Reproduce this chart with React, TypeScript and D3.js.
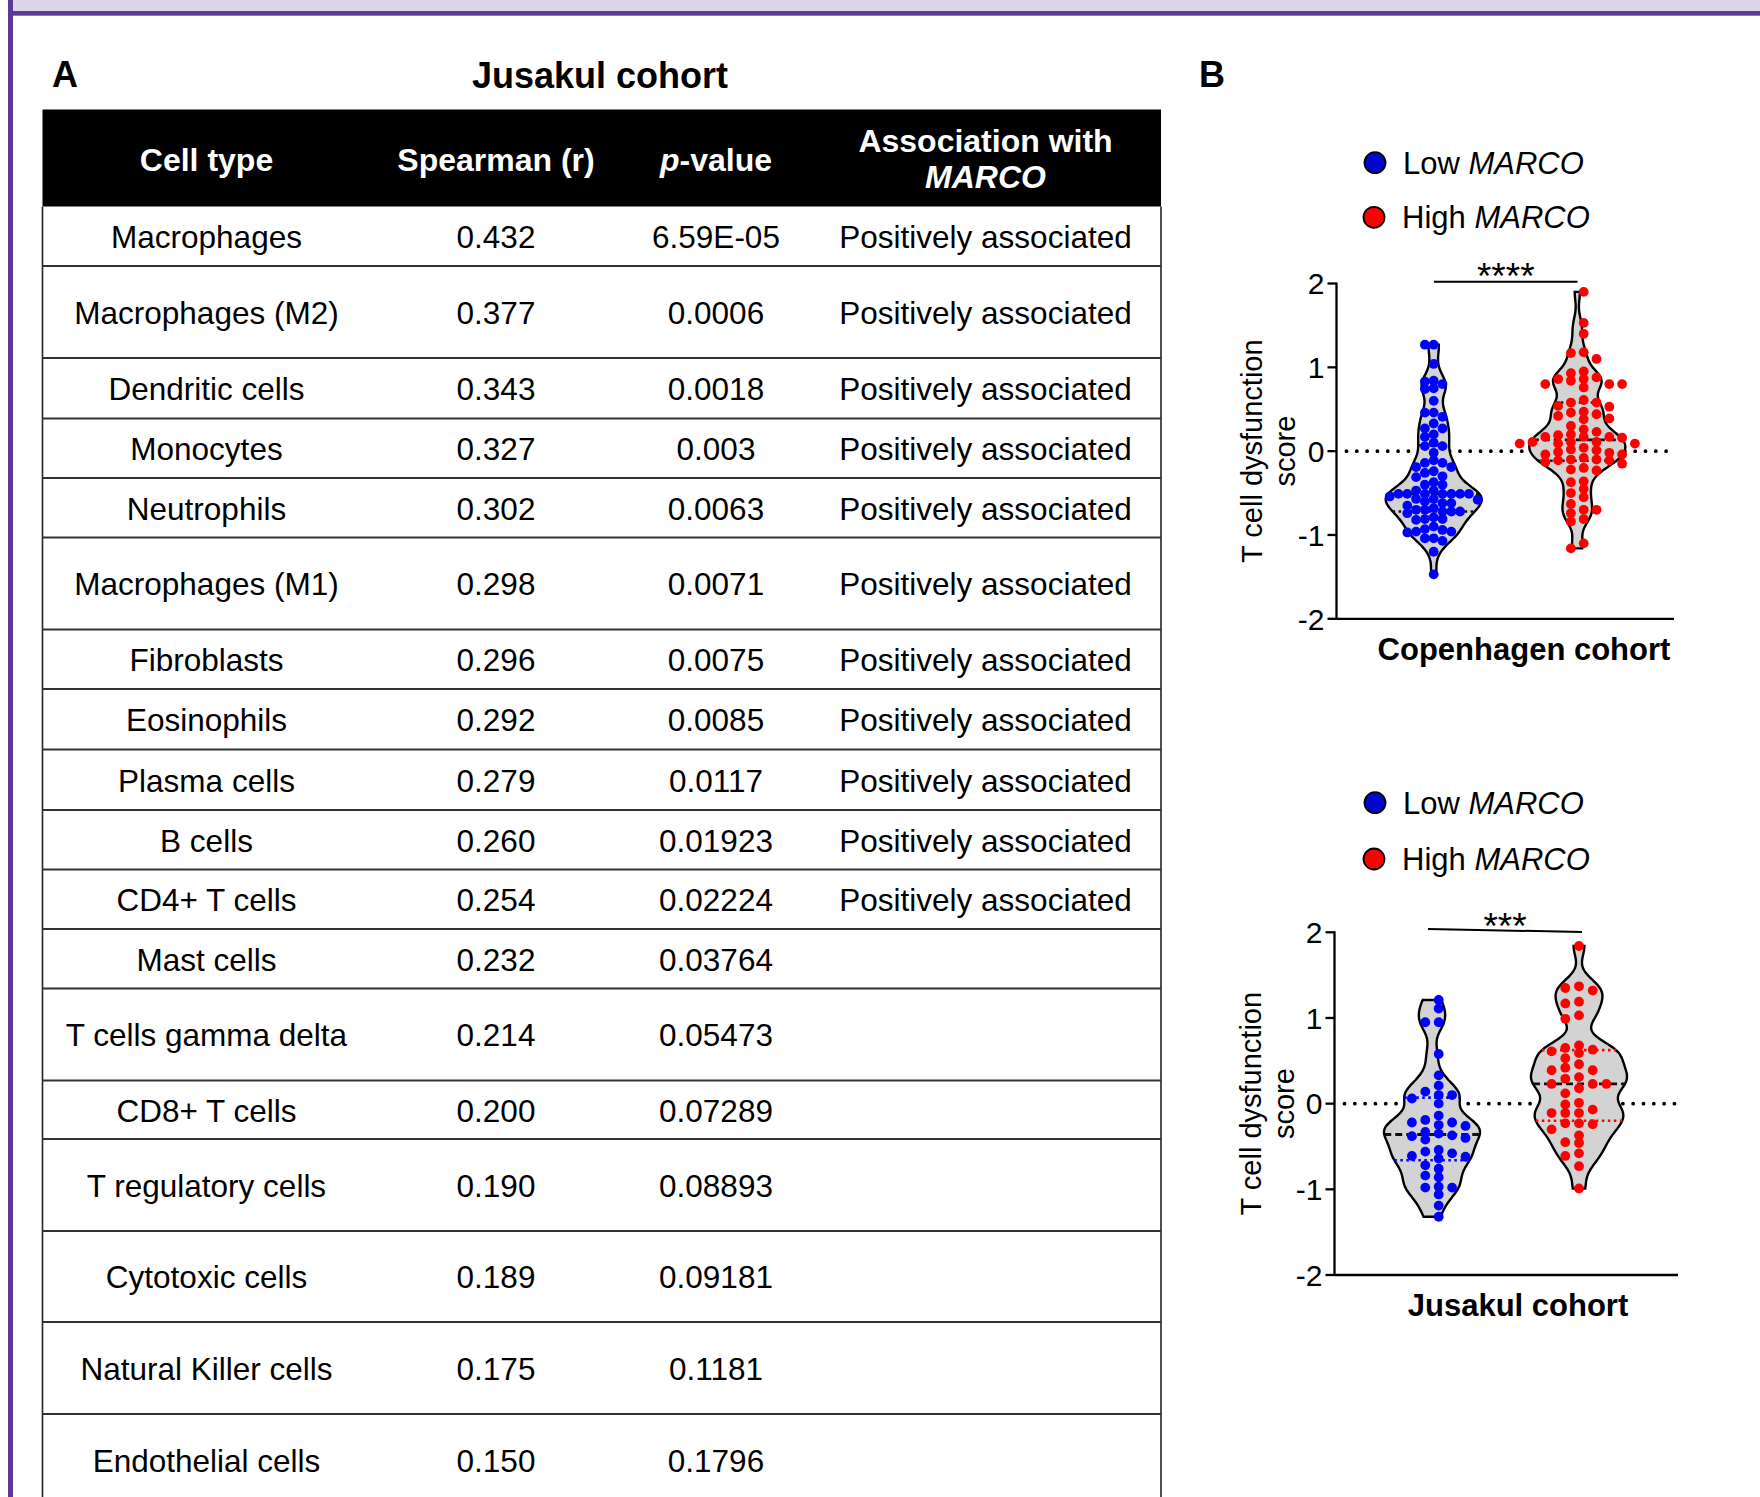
import React from 'react';
import * as d3 from 'd3';

// ---------------- DATA ----------------
const CELL_TYPES = [
  'Macrophages', 'Macrophages (M2)', 'Dendritic cells', 'Monocytes', 'Neutrophils',
  'Macrophages (M1)', 'Fibroblasts', 'Eosinophils', 'Plasma cells', 'B cells',
  'CD4+ T cells', 'Mast cells', 'T cells gamma delta', 'CD8+ T cells',
  'T regulatory cells', 'Cytotoxic cells', 'Natural Killer cells', 'Endothelial cells',
];
const SPEARMAN_R = [
  '0.432', '0.377', '0.343', '0.327', '0.302', '0.298', '0.296', '0.292', '0.279',
  '0.260', '0.254', '0.232', '0.214', '0.200', '0.190', '0.189', '0.175', '0.150',
];
const P_VALUES = [
  '6.59E-05', '0.0006', '0.0018', '0.003', '0.0063', '0.0071', '0.0075', '0.0085',
  '0.0117', '0.01923', '0.02224', '0.03764', '0.05473', '0.07289', '0.08893',
  '0.09181', '0.1181', '0.1796',
];
const ASSOCIATION = [
  'Positively associated', 'Positively associated', 'Positively associated',
  'Positively associated', 'Positively associated', 'Positively associated',
  'Positively associated', 'Positively associated', 'Positively associated',
  'Positively associated', 'Positively associated', '', '', '', '', '', '', '',
];

const COP_LOW = [
  1.27, 1.27, 1.04, 0.84, 0.83, 0.80, 0.75, 0.74, 0.60, 0.46, 0.46, 0.41, 0.33, 0.27,
  0.27, 0.20, 0.17, 0.10, 0.06, 0.06, -0.02, -0.11, -0.14, -0.14, -0.19, -0.19, -0.24,
  -0.26, -0.30, -0.31, -0.37, -0.40, -0.40, -0.47, -0.47, -0.51, -0.51, -0.51, -0.51,
  -0.51, -0.51, -0.51, -0.54, -0.57, -0.57, -0.58, -0.60, -0.62, -0.62, -0.65, -0.68,
  -0.70, -0.70, -0.72, -0.72, -0.72, -0.74, -0.79, -0.81, -0.81, -0.82, -0.90, -0.93,
  -0.94, -0.96, -0.96, -0.97, -1.04, -1.04, -1.07, -1.20, -1.47,
];
const COP_HIGH = [
  1.90, 1.53, 1.40, 1.18, 1.17, 1.10, 0.95, 0.93, 0.88, 0.86, 0.86, 0.84, 0.80, 0.80,
  0.80, 0.76, 0.61, 0.58, 0.58, 0.54, 0.53, 0.47, 0.46, 0.44, 0.42, 0.39, 0.38, 0.30,
  0.26, 0.23, 0.20, 0.19, 0.17, 0.17, 0.17, 0.16, 0.11, 0.11, 0.11, 0.09, 0.09, 0.09,
  0.04, 0.02, 0.01, -0.01, -0.02, -0.04, -0.04, -0.08, -0.10, -0.10, -0.11, -0.11,
  -0.13, -0.15, -0.20, -0.22, -0.23, -0.36, -0.37, -0.45, -0.50, -0.55, -0.63, -0.70,
  -0.70, -0.74, -0.81, -0.84, -1.10, -1.16,
];
const JUS_LOW = [
  1.21, 1.11, 0.95, 0.95, 0.58, 0.33, 0.21, 0.14, 0.10, 0.10, 0.06, 0.00, -0.14, -0.19,
  -0.22, -0.22, -0.25, -0.26, -0.33, -0.35, -0.37, -0.38, -0.40, -0.42, -0.54, -0.56,
  -0.58, -0.61, -0.62, -0.64, -0.72, -0.76, -0.84, -0.86, -0.97, -0.98, -0.98, -1.06,
  -1.19, -1.32,
];
const JUS_HIGH = [
  1.84, 1.37, 1.35, 1.32, 1.19, 1.17, 1.03, 0.99, 0.68, 0.65, 0.63, 0.61, 0.59, 0.53,
  0.46, 0.42, 0.39, 0.39, 0.31, 0.29, 0.23, 0.23, 0.23, 0.18, 0.12, 0.01, -0.01, -0.07,
  -0.11, -0.11, -0.11, -0.23, -0.23, -0.24, -0.30, -0.37, -0.45, -0.46, -0.58, -0.61,
  -0.73, -0.99,
];
const Y_TICKS = [-2, -1, 0, 1, 2];
const Y_DOMAIN = [-2, 2];
const LEGEND_LABELS = ['Low', 'High'];
const GROUP_COLORS = ['#0000ff', '#ff0000'];
const LEGEND_COLORS = ['#0008d0', '#ff0000'];
const COHORTS = ['Copenhagen cohort', 'Jusakul cohort'];
const SIGNIFICANCE = ['****', '***'];

// ---------------- LAYOUT ----------------
const W = 1760;
const H = 1497;
const FONT = "'Liberation Sans', Arial, Helvetica, sans-serif";
const TABLE_X0 = 42.5;
const TABLE_X1 = 1161;
const HEADER_Y0 = 109.5;
const HEADER_Y1 = 206.5;
const ROW_H = [59.5, 92, 60.5, 59.5, 59.5, 92, 59.5, 60.5, 60.5, 59.5, 59.5, 59.5, 92, 58.5, 92, 91, 92, 92];
const COL_X = [206.5, 496, 716, 985.5];

const PANELS = [
  {
    data: [COP_LOW, COP_HIGH], legendY: [162.7, 217.3], yRange: [618.8, 283.5],
    axisX: 1336.5, xEnd: 1674, cx: [1433.7, 1577.3], colSpacing: [8.8, 12.8], half: [false, true],
    sigY: [281.7, 281.7], sigX: [1434, 1577.5], sigBase: 289, titleX: 1524, titleBase: 660,
    yTitleX: [1262, 1295], quartColor: ['#111', '#111'], bw: 0.12,
  },
  {
    data: [JUS_LOW, JUS_HIGH], legendY: [802.7, 859], yRange: [1275, 932.3],
    axisX: 1334.5, xEnd: 1678, cx: [1432, 1579], colSpacing: [13.4, 13.7], half: [true, false],
    sigY: [929, 932], sigX: [1428, 1582], sigBase: 939, titleX: 1518, titleBase: 1316,
    yTitleX: [1261, 1294], quartColor: ['#0000ff', '#ff0000'], bw: 0.13,
  },
];

const DOT_R = 4.9;
const HALF_MAX = 48;

function density(values: number[], bw: number, y: number) {
  let s = 0;
  for (const v of values) s += Math.exp(-0.5 * ((y - v) / bw) ** 2);
  return s;
}

function swarm(values: number[], yS: (v: number) => number, cx: number, spacing: number, half: boolean) {
  const pts = values.map((v) => ({ v, y: yS(v) })).sort((a, b) => b.v - a.v);
  const cols = new Map<number, number[]>();
  const offsets: number[] = [];
  for (let k = 0; k < 30; k++) {
    if (half) { offsets.push(k + 0.5, -(k + 0.5)); }
    else if (k === 0) offsets.push(0);
    else offsets.push(-k, k);
  }
  const minGap = DOT_R * 2 * 0.72;
  const out: { x: number; y: number }[] = [];
  for (const p of pts) {
    for (const o of offsets) {
      const col = cols.get(o) || [];
      if (col.every((yy) => Math.abs(yy - p.y) >= minGap)) {
        col.push(p.y);
        cols.set(o, col);
        out.push({ x: cx + o * spacing, y: p.y });
        break;
      }
    }
  }
  return out;
}

function Violin({ values, cx, yS, color, qColor, spacing, half, bw }: any) {
  const sorted = [...values].sort((a, b) => a - b);
  const lo = sorted[0];
  const hi = sorted[sorted.length - 1];
  const samples = d3.range(0, 121).map((i) => lo + ((hi - lo) * i) / 120);
  const maxD = d3.max(samples, (s) => density(values, bw, s)) as number;
  const w = (v: number) => (density(values, bw, v) / maxD) * HALF_MAX;
  const area = d3.area<number>()
    .y((v) => yS(v))
    .x0((v) => cx - w(v))
    .x1((v) => cx + w(v))
    .curve(d3.curveCatmullRom);
  const q1 = d3.quantile(sorted, 0.25) as number;
  const med = d3.quantile(sorted, 0.5) as number;
  const q3 = d3.quantile(sorted, 0.75) as number;
  const dots = swarm(values, yS, cx, spacing, half);
  return (
    <g>
      <path d={area(samples) || ''} fill="#d3d3d3" stroke="#000" strokeWidth={2.4} />
      {[q1, q3].map((q, i) => (
        <line key={i} x1={cx - w(q)} x2={cx + w(q)} y1={yS(q)} y2={yS(q)}
          stroke={qColor} strokeWidth={2.6} strokeDasharray="2.5 3.5" />
      ))}
      <line x1={cx - w(med)} x2={cx + w(med)} y1={yS(med)} y2={yS(med)}
        stroke="#111" strokeWidth={2.8} strokeDasharray="7 4" />
      {dots.map((d, i) => (
        <circle key={i} cx={d.x} cy={d.y} r={DOT_R} fill={color} />
      ))}
    </g>
  );
}

function Panel({ p, idx }: any) {
  const yS = d3.scaleLinear().domain(Y_DOMAIN).range(p.yRange);
  const yMid = yS(0);
  return (
    <g fontFamily={FONT}>
      {LEGEND_LABELS.map((lab, i) => (
        <g key={lab}>
          <circle cx={1375 - i} cy={p.legendY[i]} r={10.5} fill={LEGEND_COLORS[i]} stroke="#000" strokeWidth={1.8} />
          <text x={1403 - i} y={p.legendY[i] + 11} fontSize={31} fill="#000">
            {lab + ' '}<tspan fontStyle="italic">MARCO</tspan>
          </text>
        </g>
      ))}
      {/* significance */}
      <line x1={p.sigX[0]} x2={p.sigX[1]} y1={p.sigY[0]} y2={p.sigY[1]} stroke="#000" strokeWidth={2} />
      <text x={(p.sigX[0] + p.sigX[1]) / 2} y={p.sigBase} fontSize={37} textAnchor="middle">{SIGNIFICANCE[idx]}</text>
      {/* zero line */}
      <line x1={p.axisX + 10} x2={p.xEnd} y1={yMid} y2={yMid} stroke="#000" strokeWidth={3.8}
        strokeDasharray="0.01 10.3" strokeLinecap="round" />
      {/* violins */}
      {p.data.map((vals: number[], i: number) => (
        <Violin key={i} values={vals} cx={p.cx[i]} yS={yS} color={GROUP_COLORS[i]}
          qColor={p.quartColor[i]} spacing={p.colSpacing[i]} half={p.half[i]} bw={p.bw} />
      ))}
      {/* axes */}
      <line x1={p.axisX} x2={p.axisX} y1={yS(Y_DOMAIN[1]) - 1} y2={yS(Y_DOMAIN[0]) + 1} stroke="#000" strokeWidth={2.3} />
      <line x1={p.axisX} x2={p.xEnd} y1={yS(Y_DOMAIN[0])} y2={yS(Y_DOMAIN[0])} stroke="#000" strokeWidth={2.3} />
      {Y_TICKS.map((t) => (
        <g key={t}>
          <line x1={p.axisX - 9} x2={p.axisX} y1={yS(t)} y2={yS(t)} stroke="#000" strokeWidth={2.3} />
          <text x={p.axisX - 12} y={yS(t)} dy="0.36em" fontSize={30} textAnchor="end">{String(t)}</text>
        </g>
      ))}
      <text transform={`translate(${p.yTitleX[0]},${yMid}) rotate(-90)`} fontSize={29} textAnchor="middle">T cell dysfunction</text>
      <text transform={`translate(${p.yTitleX[1]},${yMid}) rotate(-90)`} fontSize={29} textAnchor="middle">score</text>
      <text x={p.titleX} y={p.titleBase} fontSize={31} fontWeight="bold" textAnchor="middle">{COHORTS[idx]}</text>
    </g>
  );
}

function Table() {
  const tops: number[] = [];
  let acc = HEADER_Y1;
  ROW_H.forEach((h) => { tops.push(acc); acc += h; });
  return (
    <g fontFamily={FONT}>
      <rect x={TABLE_X0} y={HEADER_Y0} width={TABLE_X1 - TABLE_X0} height={HEADER_Y1 - HEADER_Y0} fill="#000" />
      <g fill="#fff" fontWeight="bold" fontSize={32} textAnchor="middle">
        <text x={COL_X[0]} y={171}>Cell type</text>
        <text x={COL_X[1]} y={171}>Spearman (r)</text>
        <text x={COL_X[2]} y={171}><tspan fontStyle="italic">p</tspan>-value</text>
        <text x={COL_X[3]} y={152}>Association with</text>
        <text x={COL_X[3]} y={188} fontStyle="italic">MARCO</text>
      </g>
      <line x1={TABLE_X0} x2={TABLE_X0} y1={HEADER_Y1} y2={H} stroke="#222" strokeWidth={1.6} />
      <line x1={TABLE_X1} x2={TABLE_X1} y1={HEADER_Y1} y2={H} stroke="#222" strokeWidth={1.6} />
      {CELL_TYPES.map((c, i) => {
        const cy = tops[i] + ROW_H[i] / 2;
        return (
          <g key={c} fontSize={31.5} textAnchor="middle" fill="#000">
            <text x={COL_X[0]} y={cy} dy="0.38em">{c}</text>
            <text x={COL_X[1]} y={cy} dy="0.38em">{SPEARMAN_R[i]}</text>
            <text x={COL_X[2]} y={cy} dy="0.38em">{P_VALUES[i]}</text>
            <text x={COL_X[3]} y={cy} dy="0.38em">{ASSOCIATION[i]}</text>
            <line x1={TABLE_X0} x2={TABLE_X1} y1={tops[i] + ROW_H[i]} y2={tops[i] + ROW_H[i]} stroke="#333" strokeWidth={2} />
          </g>
        );
      })}
    </g>
  );
}

export default function App() {
  return (
    <svg width={W} height={H} viewBox={`0 0 ${W} ${H}`}
      style={{ position: 'absolute', left: 0, top: 0, display: 'block', background: '#fff' }}>
      <rect x={0} y={0} width={W} height={H} fill="#fff" />
      <rect x={13} y={0} width={W - 13} height={11} fill="#ddd5ea" />
      <rect x={8} y={11} width={W - 8} height={4.7} fill="#5b3b97" />
      <rect x={8} y={0} width={5} height={H} fill="#5b3b97" />
      <text x={52} y={87} fontFamily={FONT} fontWeight="bold" fontSize={36}>A</text>
      <text x={1199} y={87} fontFamily={FONT} fontWeight="bold" fontSize={36}>B</text>
      <text x={600} y={88} fontFamily={FONT} fontWeight="bold" fontSize={36} textAnchor="middle">Jusakul cohort</text>
      <Table />
      {PANELS.map((p, i) => <Panel key={i} p={p} idx={i} />)}
    </svg>
  );
}
